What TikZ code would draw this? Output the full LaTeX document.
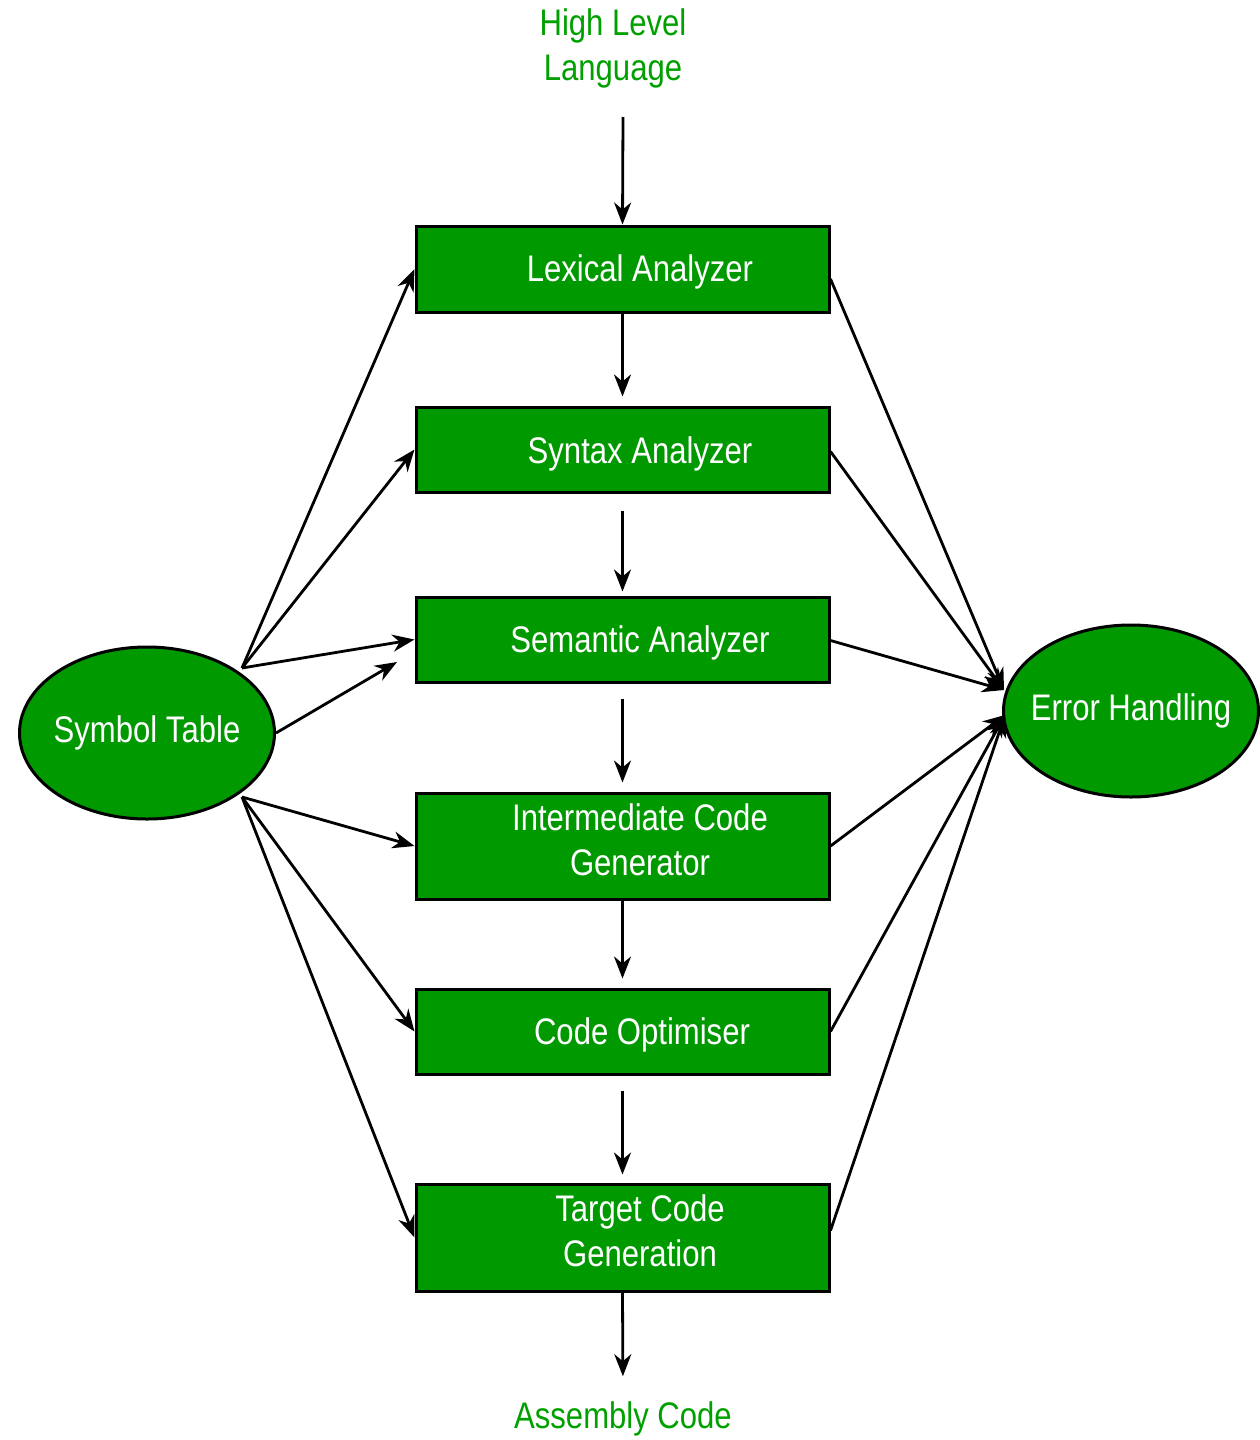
\documentclass[tikz,border=0pt]{standalone}
\usepackage{fontspec}
\setmainfont{Liberation Sans}[FakeStretch=0.84]
\usetikzlibrary{arrows.meta,shapes.geometric,calc}
\definecolor{boxgreen}{HTML}{009900}
\definecolor{textgreen}{HTML}{00A000}
\newcommand{\flatlabel}[1]{\makebox[0pt]{#1}}
\begin{document}
\begin{tikzpicture}[x=1pt,y=-1pt,
  every node/.style={font=\fontsize{37}{45}\selectfont},
  phase/.style={draw=black,line width=3pt,fill=boxgreen,minimum width=413,inner sep=0pt},
  phasetext/.style={text=white,align=center},
  table/.style={ellipse,draw=black,line width=3pt,fill=boxgreen,text=white,minimum width=255,minimum height=172,inner sep=0pt},
  io/.style={text=textgreen,align=center},
  link/.style={line width=2.8pt,-{Stealth[length=22pt,width=17pt,inset=7pt]}}]
\useasboundingbox (0,0) rectangle (1259,1440);

% input / output labels
\node[io] (hll) at (613,48) {High Level\\Language};
\node[io] (asm) at (623,1419) {Assembly Code};

% compiler phases
\node[phase,minimum height=86] (lex) at (622.5,269) {};
\node[phasetext] (lexT) at (640,272) {Lexical Analyzer};
\node[phase,minimum height=85] (syn) at (622.5,449.5) {};
\node[phasetext] (synT) at (640,454) {Syntax Analyzer};
\node[phase,minimum height=85] (sem) at (622.5,639.5) {};
\node[phasetext] (semT) at (640,643) {Semantic Analyzer};
\node[phase,minimum height=106] (icg) at (622.5,846) {};
\node[phasetext] (icgT) at (640,840) {Intermediate Code\\Generator};
\node[phase,minimum height=85] (opt) at (622.5,1031.5) {};
\node[phasetext] (optT) at (642,1035) {Code Optimiser};
\node[phase,minimum height=107] (tcg) at (622.5,1237.5) {};
\node[phasetext] (tcgT) at (640,1231) {Target Code\\Generation};

% side tables
\node[table] (sym) at (147,733) {\flatlabel{Symbol Table}};
\node[table] (err) at (1131,711) {\flatlabel{Error Handling}};

% main pipeline
\coordinate (hllEnd) at (623,117);
\draw[link] (hllEnd) -- (lex.north);
\draw[link,shorten >=9pt] (lex.south) -- (syn.north);
\draw[link,shorten <=17pt,shorten >=4pt] (syn.south) -- (sem.north);
\draw[link,shorten <=15pt,shorten >=9pt] (sem.south) -- (icg.north);
\draw[link,shorten >=9pt] (icg.south) -- (opt.north);
\draw[link,shorten <=15pt,shorten >=8pt] (opt.south) -- (tcg.north);
\draw[link,shorten >=22pt] (tcg.south) -- (asm.north);

% symbol table links
\coordinate (symUp) at (242,668);
\coordinate (symDn) at (242,797);
\coordinate (semLow) at (397,662);
\draw[link] (symUp) -- (lex.west);
\draw[link] (symUp) -- (syn.west);
\draw[link] (symUp) -- (sem.west);
\draw[link] (sym.east) -- (semLow);
\draw[link] (symDn) -- (icg.west);
\draw[link] (symDn) -- (opt.west);
\draw[link] (symDn) -- (tcg.west);

% error handling links
\coordinate (errUp) at (1004,690);
\coordinate (errDn) at (1005,715);
\draw[link] ($(lex.east)+(0,10)$) -- (errUp);
\draw[link] ($(syn.east)+(0,2)$) -- (errUp);
\draw[link] ($(sem.east)+(0,1)$) -- (errUp);
\draw[link] (icg.east) -- (errDn);
\draw[link] (opt.east) -- (errDn);
\draw[link] ($(tcg.east)+(0,-7)$) -- (errDn);
\end{tikzpicture}
\end{document}
